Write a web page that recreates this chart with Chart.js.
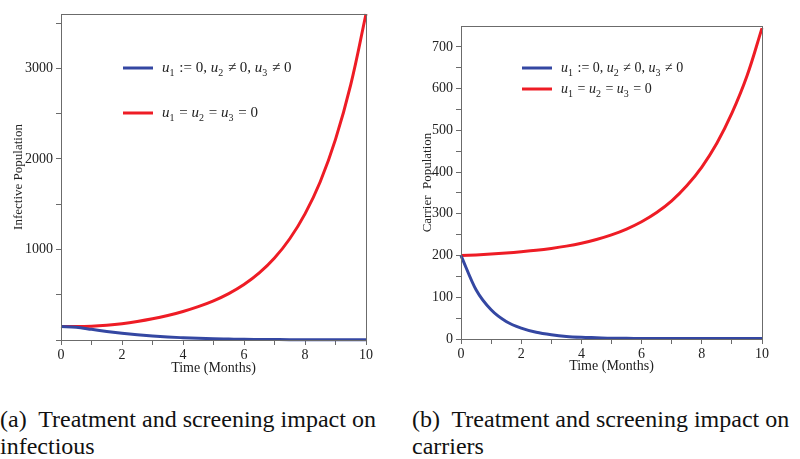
<!DOCTYPE html>
<html>
<head>
<meta charset="utf-8">
<script src="https://cdn.jsdelivr.net/npm/chart.js@4"></script>
<style>
  body { margin: 0; background: #fff; width: 800px; height: 459px; position: relative; overflow: hidden; }
  .box { position: absolute; top: 0; width: 400px; height: 380px; }
  .cap { position: absolute; font-family: "Liberation Serif", "Times New Roman", serif; font-size: 24px; line-height: 27px; color: #111; white-space: pre; }
</style>
</head>
<body>
<div class="box" style="left:0"><canvas id="infective"></canvas></div>
<div class="box" style="left:400px"><canvas id="carrier"></canvas></div>
<div class="cap" style="left:0;top:406px">(a)  Treatment and screening impact on
infectious</div>
<div class="cap" style="left:412px;top:406px">(b)  Treatment and screening impact on
carriers</div>
<script>
// time grid (months)
const months = [0, 0.5, 1, 1.5, 2, 2.5, 3, 3.5, 4, 4.5, 5, 5.5, 6, 6.5, 7, 7.5, 8, 8.5, 9, 9.5, 10];
const seriesLabels = ['u_1 := 0, u_2 ≠ 0, u_3 ≠ 0', 'u_1 = u_2 = u_3 = 0'];

// (a) infective population
const infTreated = [150, 140, 118, 95, 75, 58, 44, 33, 25, 18, 13, 10, 7, 6, 5, 4, 4, 3, 3, 3, 3];
const infUntreated = [150, 148, 152, 163, 180, 204, 234, 271, 315, 368, 432, 512, 612, 740, 905, 1118, 1393, 1748, 2215, 2820, 3600];
const infYTicks = [0, 500, 1000, 1500, 2000, 2500, 3000, 3500];
const infYLabels = [1000, 2000, 3000];

// (b) carrier population
const carTreated = [200, 118, 70, 42, 26, 16, 10, 6, 4, 3, 2, 2, 1, 1, 1, 1, 1, 1, 1, 1, 1];
const carUntreated = [200, 201.5, 203.5, 206, 209, 212.5, 217, 222.5, 229.5, 238.5, 249.5, 263.5, 281, 303, 331, 367, 412, 469, 541, 630, 745];
const carYTicks = [0, 50, 100, 150, 200, 250, 300, 350, 400, 450, 500, 550, 600, 650, 700];
const carYLabels = [0, 100, 200, 300, 400, 500, 600, 700];

const xTicks = [0, 1, 2, 3, 4, 5, 6, 7, 8, 9, 10];
const xLabels = [0, 2, 4, 6, 8, 10];

const BLUE = '#3447a2';
const RED = '#ee1c25';
const AXIS = '#6b6b6b';
const SERIF = '"Liberation Serif", "Times New Roman", serif';

// draws u_1 style labels with real subscripts
function drawRich(ctx, text, x, y, size) {
  const parts = text.split(/(u_\d)/);
  for (const p of parts) {
    if (!p) continue;
    if (/^u_\d$/.test(p)) {
      ctx.font = 'italic ' + size + 'px ' + SERIF;
      ctx.fillText('u', x, y);
      x += ctx.measureText('u').width;
      ctx.font = Math.round(size * 0.68) + 'px ' + SERIF;
      ctx.fillText(p[2], x, y + size * 0.35);
      x += ctx.measureText(p[2]).width + 1;
    } else {
      ctx.font = size + 'px ' + SERIF;
      ctx.fillText(p, x, y);
      x += ctx.measureText(p).width;
    }
  }
}

const framePlugin = {
  id: 'frame',
  afterDraw(chart, args, opts) {
    const {ctx, chartArea: a} = chart;
    ctx.save();
    ctx.strokeStyle = AXIS;
    ctx.lineWidth = 1;
    ctx.strokeRect(a.left + 0.5, a.top + 0.5, a.right - a.left, a.bottom - a.top);
    // legend inside the plot
    ctx.textBaseline = 'middle';
    ctx.fillStyle = '#222';
    chart.data.datasets.forEach((ds, i) => {
      const y = a.top + opts.y + i * opts.gap;
      const x = a.left + opts.x;
      ctx.strokeStyle = ds.borderColor;
      ctx.lineWidth = 3;
      ctx.beginPath();
      ctx.moveTo(x, y);
      ctx.lineTo(x + 30, y);
      ctx.stroke();
      drawRich(ctx, ds.label, x + 39, y, opts.size);
    });
    ctx.restore();
  }
};

function makeChart(id, treated, untreated, yMax, yTicks, yLabels, yTitle, lay) {
  return new Chart(document.getElementById(id), {
    type: 'line',
    data: {
      labels: months,
      datasets: [
        { label: seriesLabels[0], data: months.map((t, i) => ({x: t, y: treated[i]})), borderColor: BLUE,
          cubicInterpolationMode: 'monotone' },
        { label: seriesLabels[1], data: months.map((t, i) => ({x: t, y: untreated[i]})), borderColor: RED,
          tension: 0.4 }
      ]
    },
    options: {
      responsive: false,
      animation: false,
      clip: false,
      layout: { padding: { top: lay.top, right: lay.right, left: 0, bottom: 0 } },
      elements: {
        line: { borderWidth: 3 },
        point: { radius: 0 }
      },
      plugins: {
        legend: { display: false },
        tooltip: { enabled: false },
        frame: lay.legend
      },
      scales: {
        x: {
          type: 'linear', min: 0, max: 10,
          afterBuildTicks: s => { s.ticks = xTicks.map(v => ({value: v})); },
          afterFit: s => { s.height = lay.xh; },
          ticks: {
            callback: v => xLabels.includes(v) ? String(v) : '',
            color: '#222', padding: 2, maxRotation: 0, autoSkip: false,
            font: { family: SERIF, size: 14 }
          },
          grid: { drawOnChartArea: false, tickLength: 5, color: AXIS },
          border: { color: AXIS },
          title: { display: true, text: 'Time (Months)', color: '#222',
                   font: { family: SERIF, size: 14 }, padding: { top: 0, bottom: lay.xtp } }
        },
        y: {
          min: 0, max: yMax,
          afterBuildTicks: s => { s.ticks = yTicks.map(v => ({value: v})); },
          afterFit: s => { s.width = 61; },
          ticks: {
            callback: v => yLabels.includes(v) ? String(v) : '',
            color: '#222', padding: 3, autoSkip: false,
            font: { family: SERIF, size: 14 }
          },
          grid: { drawOnChartArea: false, tickLength: 5, color: AXIS },
          border: { color: AXIS },
          title: { display: true, text: yTitle, color: '#222',
                   font: { family: SERIF, size: 13 }, padding: { top: lay.ytp, bottom: 0 } }
        }
      }
    },
    plugins: [framePlugin]
  });
}

function sizeCanvas(id) {
  const c = document.getElementById(id);
  c.width = 400; c.height = 380;
  c.style.width = '400px'; c.style.height = '380px';
}
sizeCanvas('infective');
sizeCanvas('carrier');

makeChart('infective', infTreated, infUntreated, 3600, infYTicks, infYLabels, 'Infective Population',
  { top: 14, right: 34, xh: 40, xtp: 3, ytp: 11, legend: { x: 62, y: 54, gap: 45, size: 15 } });
makeChart('carrier', carTreated, carUntreated, 750, carYTicks, carYLabels, 'Carrier  Population',
  { top: 26, right: 38, xh: 41, xtp: 5, ytp: 20, legend: { x: 61, y: 42, gap: 21, size: 14 } });
</script>
</body>
</html>
